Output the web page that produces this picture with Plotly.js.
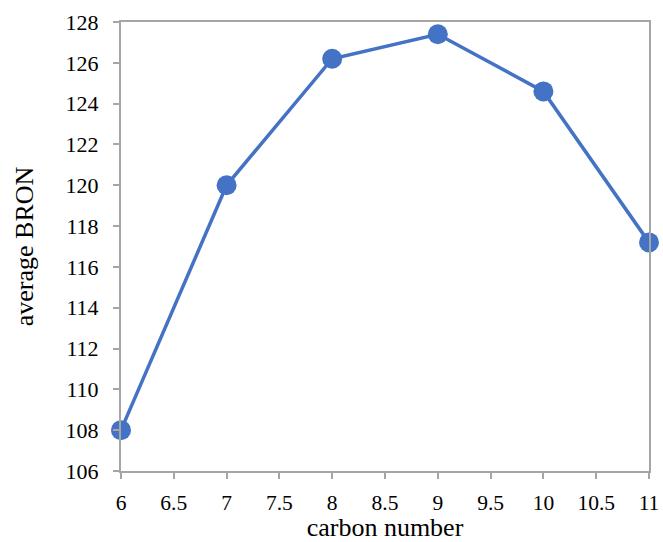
<!DOCTYPE html>
<html><head><meta charset="utf-8">
<script src="https://cdn.plot.ly/plotly-3.0.1.min.js"></script>
<style>body{margin:0;}#chart{width:663px;height:542px;}</style>
</head><body><div id="chart"></div>
<script>
const carbonNumber = [6, 7, 8, 9, 10, 11];
const averageBRON = [108.0, 120.0, 126.2, 127.4, 124.6, 117.2];

const trace = {
  x: carbonNumber, y: averageBRON, type: 'scatter', mode: 'lines+markers',
  line: {color: '#4472C4', width: 3.5},
  marker: {color: '#4472C4', size: 20},
  cliponaxis: false
};
const fontFam = 'Liberation Serif, serif';
const layout = {
  width: 663, height: 542,
  margin: {l: 121, r: 14, t: 22, b: 71},
  paper_bgcolor: '#ffffff', plot_bgcolor: '#ffffff',
  showlegend: false,
  font: {family: fontFam, size: 22, color: '#000000'},
  xaxis: {
    range: [6, 11], dtick: 0.5, tick0: 6, showgrid: false, zeroline: false,
    showline: true, linecolor: '#a6a6a6', linewidth: 2, mirror: true,
    ticks: 'outside', ticklen: 6, tickcolor: '#a6a6a6', tickwidth: 2,
    ticklabelstandoff: 5,
    tickfont: {family: fontFam, size: 21.5},
    title: {text: 'carbon number', font: {family: fontFam, size: 26}, standoff: 11}
  },
  yaxis: {
    range: [106, 128], dtick: 2, tick0: 106, showgrid: false, zeroline: false,
    showline: true, linecolor: '#a6a6a6', linewidth: 2, mirror: true,
    ticks: 'outside', ticklen: 6, tickcolor: '#a6a6a6', tickwidth: 2,
    ticklabelstandoff: 10,
    tickfont: {family: fontFam, size: 22},
    title: {text: 'average BRON', font: {family: fontFam, size: 26}, standoff: 24}
  }
};
Plotly.newPlot('chart', [trace], layout, {staticPlot: true, displayModeBar: false});
</script></body></html>
